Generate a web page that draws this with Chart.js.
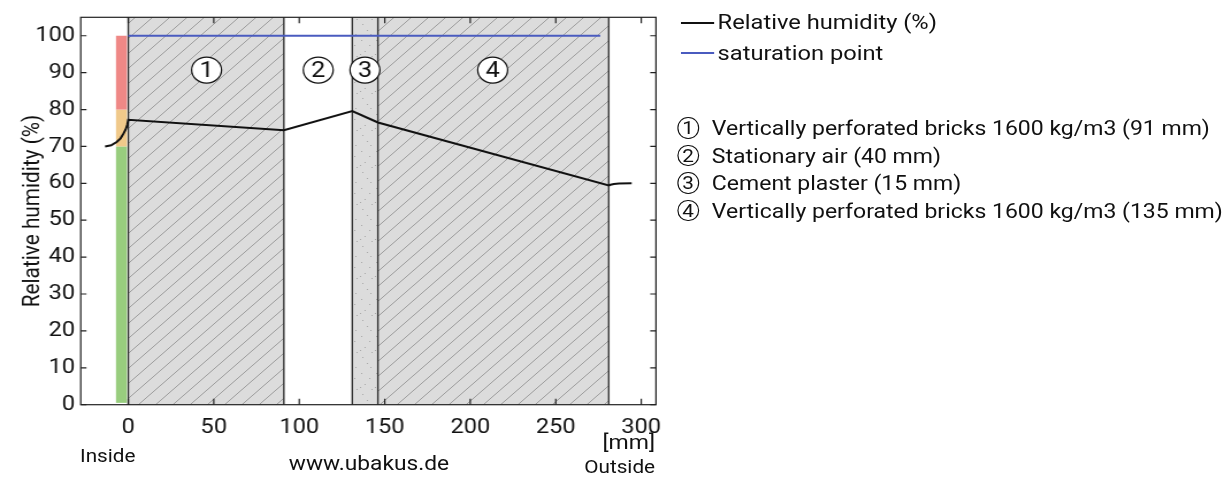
<!DOCTYPE html>
<html>
<head>
<meta charset="utf-8">
<script src="https://cdn.jsdelivr.net/npm/chart.js@4/dist/chart.umd.min.js"></script>
<style>
html,body{margin:0;padding:0;background:#fff;overflow:hidden;}
#wrap{position:absolute;left:0;top:0;width:1067px;height:477px;transform:scaleX(1.15);transform-origin:0 0;font-family:Roboto,"Noto Sans",sans-serif;color:#111;}
#c{position:absolute;left:0;top:0;}
.t{position:absolute;white-space:nowrap;line-height:1;}
.lline{position:absolute;height:2px;}
.circ{position:absolute;width:18.5px;height:21.5px;border:1.2px solid #111;border-radius:50%;box-sizing:border-box;text-align:center;font-size:18px;line-height:19.5px;}
</style>
</head>
<body>
<div id="wrap">
<canvas id="c" width="1067" height="477"></canvas>
<div class="lline" style="left:592px;top:21.5px;width:29px;background:#111;"></div>
<div class="t" style="left:624px;top:12.4px;font-size:20.6px;">Relative humidity (%)</div>
<div class="lline" style="left:592px;top:52px;width:29px;background:#4a5bbf;"></div>
<div class="t" style="left:624px;top:42.7px;font-size:20.6px;">saturation point</div>
<div id="layerLegend"></div>
<div class="t" style="left:69.6px;top:446.6px;font-size:18px;">Inside</div>
<div class="t" style="right:497.4px;top:432.2px;font-size:20px;">[mm]</div>
<div class="t" style="right:497.4px;top:457.6px;font-size:18px;">Outside</div>
<div class="t" style="left:320.9px;top:453.6px;font-size:19.8px;transform:translateX(-50%);">www.ubakus.de</div>
</div>
<script>
// ---- data ----
const xTickValues = [0, 50, 100, 150, 200, 250, 300];
const yTickValues = [0, 10, 20, 30, 40, 50, 60, 70, 80, 90, 100];
const humidityX = [-13.6, -10, -6.8, -4.5, -2.9, -1.5, -0.6, 0, 91, 131, 146, 281, 282, 284, 287, 294.4];
const humidityY = [70.0, 70.3, 71.2, 72.2, 73.4, 74.6, 75.8, 77.2, 74.4, 79.6, 76.5, 59.4, 59.6, 59.8, 59.95, 60.0];
const saturationX = [0, 276];
const saturationY = [100, 100];
const layerEdges = [0, 91, 131, 146, 281];
const layerNumbers = ['1', '2', '3', '4'];
const layerLabelX = [45.8, 111.1, 138.4, 213.1];
const layerLabelY = [90.7, 90.7, 90.7, 90.7];
const layerNames = [
  'Vertically perforated bricks 1600 kg/m3 (91 mm)',
  'Stationary air (40 mm)',
  'Cement plaster (15 mm)',
  'Vertically perforated bricks 1600 kg/m3 (135 mm)'
];
const zoneFrom = [0.5, 70, 80];
const zoneTo = [70, 80, 100];
const zoneBarX = [-7.2, -0.8];

// ---- styles ----
const layerStyle = ['hatch', 'plain', 'speckle', 'hatch'];
const zoneColors = ['#98cd7e', '#f0c98a', '#ef8886'];

// legend for layers (HTML)
const legendRowY = [128, 155.5, 183, 210.5];
const ll = document.getElementById('layerLegend');
layerNames.forEach((name, i) => {
  const c = document.createElement('div');
  c.className = 'circ';
  c.style.left = '589px';
  c.style.top = (legendRowY[i] - 10.75) + 'px';
  c.textContent = layerNumbers[i];
  ll.appendChild(c);
  const t = document.createElement('div');
  t.className = 't';
  t.style.left = '619px';
  t.style.top = (legendRowY[i] - 10) + 'px';
  t.style.fontSize = '20px';
  t.textContent = name;
  ll.appendChild(t);
});

function makeHatch() {
  const T = 15;
  const p = document.createElement('canvas');
  p.width = T; p.height = T;
  const g = p.getContext('2d');
  g.fillStyle = '#dcdcdc';
  g.fillRect(0, 0, T, T);
  g.strokeStyle = '#9c9c9c';
  g.lineWidth = 1;
  g.beginPath();
  g.moveTo(-1, T + 1); g.lineTo(T + 1, -1);
  g.moveTo(T - 2, T + 2); g.lineTo(T + 2, T - 2);
  g.moveTo(-2, 2); g.lineTo(2, -2);
  g.stroke();
  return p;
}
function makeSpeckle() {
  const p = document.createElement('canvas');
  p.width = 13; p.height = 37;
  const g = p.getContext('2d');
  g.fillStyle = '#dcdcdc';
  g.fillRect(0, 0, 13, 37);
  g.fillStyle = '#a8a8a8';
  [[2,3],[9,8],[5,14],[11,19],[3,24],[7,30],[10,34],[1,17]].forEach(d => g.fillRect(d[0], d[1], 1, 1));
  return p;
}

const layerPlugin = {
  id: 'layers',
  beforeDatasetsDraw(chart) {
    const {ctx, chartArea: a, scales: {x, y}} = chart;
    const hatch = ctx.createPattern(makeHatch(), 'repeat');
    const speck = ctx.createPattern(makeSpeckle(), 'repeat');
    ctx.save();
    for (let i = 0; i < layerEdges.length - 1; i++) {
      const x0 = x.getPixelForValue(layerEdges[i]);
      const x1 = x.getPixelForValue(layerEdges[i + 1]);
      if (layerStyle[i] === 'hatch') ctx.fillStyle = hatch;
      else if (layerStyle[i] === 'speckle') ctx.fillStyle = speck;
      else continue;
      ctx.fillRect(x0, a.top, x1 - x0, a.bottom - a.top);
    }
    ctx.strokeStyle = '#333';
    ctx.lineWidth = 1.4;
    layerEdges.forEach(v => {
      const px = x.getPixelForValue(v);
      ctx.beginPath(); ctx.moveTo(px, a.top); ctx.lineTo(px, a.bottom); ctx.stroke();
    });
    // comfort zone bar
    const bx0 = x.getPixelForValue(zoneBarX[0]);
    const bx1 = x.getPixelForValue(zoneBarX[1]);
    zoneFrom.forEach((f, i) => {
      const y0 = y.getPixelForValue(zoneTo[i]);
      const y1 = y.getPixelForValue(f);
      ctx.fillStyle = zoneColors[i];
      ctx.fillRect(bx0, y0, bx1 - bx0, y1 - y0);
    });
    ctx.restore();
  },
  afterDatasetsDraw(chart) {
    const {ctx, chartArea: a, scales: {x, y}} = chart;
    ctx.save();
    // layer number circles
    layerNumbers.forEach((n, i) => {
      const cx = x.getPixelForValue(layerLabelX[i]);
      const cy = y.getPixelForValue(layerLabelY[i]);
      ctx.beginPath();
      ctx.arc(cx, cy, 13, 0, Math.PI * 2);
      ctx.fillStyle = '#fff';
      ctx.fill();
      ctx.strokeStyle = '#111';
      ctx.lineWidth = 1.2;
      ctx.stroke();
      ctx.fillStyle = '#111';
      ctx.font = '22px Roboto';
      ctx.textAlign = 'center';
      ctx.textBaseline = 'middle';
      ctx.fillText(n, cx, cy + 1);
    });
    // frame
    ctx.strokeStyle = '#222';
    ctx.lineWidth = 1.2;
    ctx.strokeRect(a.left, a.top, a.right - a.left, a.bottom - a.top);
    // inward ticks
    ctx.lineWidth = 1.2;
    ctx.beginPath();
    xTickValues.forEach(v => {
      const px = x.getPixelForValue(v);
      ctx.moveTo(px, a.bottom); ctx.lineTo(px, a.bottom - 6);
      ctx.moveTo(px, a.top); ctx.lineTo(px, a.top + 6);
    });
    yTickValues.forEach(v => {
      const py = y.getPixelForValue(v);
      ctx.moveTo(a.left, py); ctx.lineTo(a.left + 5, py);
      ctx.moveTo(a.right, py); ctx.lineTo(a.right - 5, py);
    });
    ctx.stroke();
    ctx.restore();
  }
};

new Chart(document.getElementById('c'), {
  type: 'line',
  data: {
    datasets: [
      {
        label: 'Relative humidity (%)',
        data: humidityX.map((v, i) => ({x: v, y: humidityY[i]})),
        borderColor: '#111',
        borderWidth: 2,
        pointRadius: 0,
        tension: 0,
        fill: false
      },
      {
        label: 'saturation point',
        data: saturationX.map((v, i) => ({x: v, y: saturationY[i]})),
        borderColor: '#4a5bbf',
        borderWidth: 2,
        pointRadius: 0,
        fill: false
      }
    ]
  },
  options: {
    responsive: false,
    animation: false,
    devicePixelRatio: 1,
    layout: {padding: {left: 0, right: 496.6, top: 11.7, bottom: 0}},
    plugins: {legend: {display: false}, tooltip: {enabled: false}},
    scales: {
      x: {
        type: 'linear',
        min: -27.8,
        max: 308.6,
        grid: {display: false, drawTicks: false},
        border: {display: false},
        afterBuildTicks(s) { s.ticks = xTickValues.map(v => ({value: v})); },
        afterFit(s) { s.height = 72.3; },
        ticks: {color: '#111', font: {family: 'Roboto', size: 20.5}, padding: 10.5, maxRotation: 0, autoSkip: false}
      },
      y: {
        type: 'linear',
        min: 0,
        max: 105,
        grid: {display: false, drawTicks: false},
        border: {display: false},
        afterBuildTicks(s) { s.ticks = yTickValues.map(v => ({value: v})); },
        afterFit(s) { s.width = 70.2; },
        ticks: {color: '#111', font: {family: 'Roboto', size: 20.5}, padding: 5, autoSkip: false},
        title: {display: true, text: 'Relative humidity (%)', color: '#111', font: {family: 'Roboto', size: 20.8}, padding: {top: 16.5, bottom: 0}}
      }
    }
  },
  plugins: [layerPlugin]
});
</script>
</body>
</html>
